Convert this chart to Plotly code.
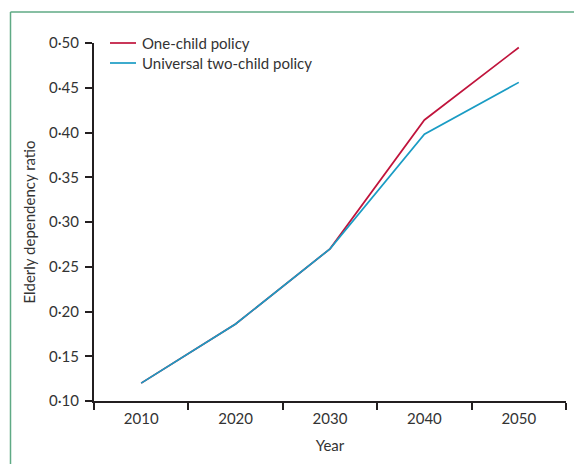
import plotly.graph_objects as go

# Projected elderly dependency ratio under two fertility policies
years = ["2010", "2020", "2030", "2040", "2050"]
one_child = [0.120, 0.186, 0.270, 0.414, 0.495]
two_child = [0.120, 0.186, 0.270, 0.398, 0.456]
series_names = ["One-child policy", "Universal two-child policy"]
series_colors = ["#C0143C", "#1A9CC4"]

y_tick_vals = [0.10, 0.15, 0.20, 0.25, 0.30, 0.35, 0.40, 0.45, 0.50]
y_tick_text = ["0·10", "0·15", "0·20", "0·25", "0·30", "0·35", "0·40", "0·45", "0·50"]

FONT = "Lato"
TEXT = "#333333"
AXIS = "#231F20"

fig = go.Figure()
for name, vals, col in zip(series_names, [one_child, two_child], series_colors):
    fig.add_trace(go.Scatter(x=years, y=vals, mode="lines", name=name,
                             line=dict(color=col, width=1.7), showlegend=False))

W, H = 574, 464
L, R, T, B = 94, 8, 43, 63
pw, ph = W - L - R, H - T - B

def px_x(v):
    return (v - L) / pw

def px_y(v):
    return (H - B - v) / ph

# Green panel frame (top and left edges)
frame = "#5FAA85"
shapes = [
    dict(type="line", xref="paper", yref="paper", x0=px_x(10.5), x1=px_x(590),
         y0=px_y(12), y1=px_y(12), line=dict(color=frame, width=1.5)),
    dict(type="line", xref="paper", yref="paper", x0=px_x(10.5), x1=px_x(10.5),
         y0=px_y(12), y1=px_y(480), line=dict(color=frame, width=1.5)),
]

# Compact key in the upper-left corner
annotations = []
for i, (name, col) in enumerate(zip(series_names, series_colors)):
    yk = 43 + 20 * i
    shapes.append(dict(type="line", xref="paper", yref="paper",
                       x0=px_x(110), x1=px_x(136), y0=px_y(yk), y1=px_y(yk),
                       line=dict(color=col, width=1.7)))
    annotations.append(dict(xref="paper", yref="paper", x=px_x(140), y=px_y(yk),
                            text=name, showarrow=False, xanchor="left", yanchor="middle",
                            font=dict(family=FONT, size=15, color=TEXT)))

fig.update_layout(
    width=W, height=H,
    margin=dict(l=L, r=R, t=T, b=B),
    paper_bgcolor="white", plot_bgcolor="white",
    font=dict(family=FONT, size=15, color=TEXT),
    shapes=shapes,
    annotations=annotations,
    showlegend=False,
    xaxis=dict(
        type="category", range=[-0.5, 4.5], tickson="boundaries",
        showline=True, linecolor=AXIS, linewidth=2,
        ticks="outside", ticklen=7, tickwidth=2, tickcolor=AXIS,
        showgrid=False, zeroline=False, ticklabelstandoff=3,
        tickfont=dict(size=15, color=TEXT),
        title=dict(text="Year", font=dict(size=15, color=TEXT), standoff=14),
    ),
    yaxis=dict(
        range=[0.10, 0.50], tickvals=y_tick_vals, ticktext=y_tick_text,
        showline=True, linecolor=AXIS, linewidth=2,
        ticks="outside", ticklen=7, tickwidth=2, tickcolor=AXIS,
        showgrid=False, zeroline=False, ticklabelstandoff=3,
        tickfont=dict(size=15, color=TEXT),
        title=dict(text="Elderly dependency ratio", font=dict(size=15, color=TEXT), standoff=10),
    ),
)

fig.write_html("out.html")
